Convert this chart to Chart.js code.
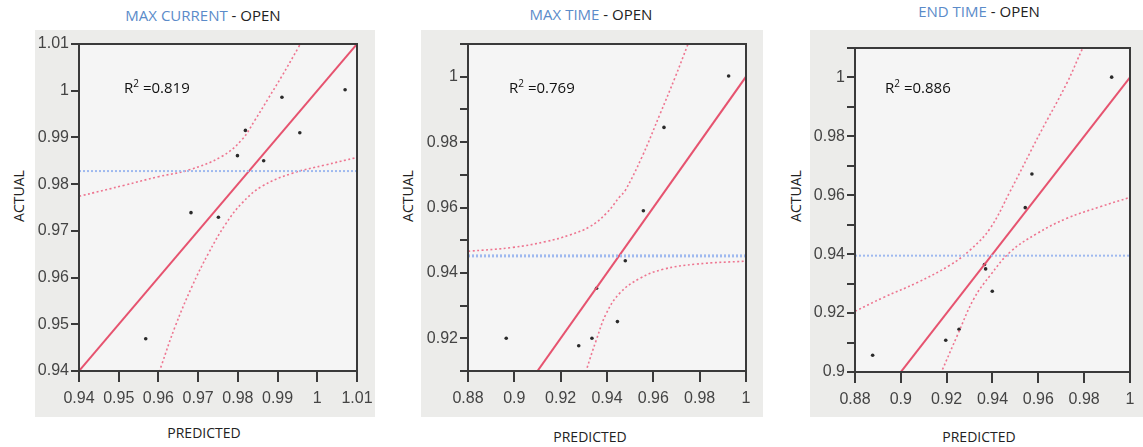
<!DOCTYPE html>
<html>
<head>
<meta charset="utf-8">
<script src="https://cdn.jsdelivr.net/npm/chart.js@4/dist/chart.umd.min.js"></script>
<style>
  body { margin: 0; background: #fff; width: 1143px; height: 447px; position: relative; overflow: hidden; font-family: "Open Sans", sans-serif; }
  .box { position: absolute; top: 30px; height: 387px; background: #ececea; }
  .box canvas { position: absolute; left: 0; top: 0; }
  .title { position: absolute; font-size: 15px; color: #222; white-space: nowrap; transform: translateX(-50%); }
  .title span { color: #5b8bc9; }
  .xlab { position: absolute; font-size: 14px; color: #222; transform: translateX(-50%); }
  .ylab { position: absolute; font-size: 14px; color: #222; transform: translate(-50%, -50%) rotate(-90deg); }
  .r2 { position: absolute; font-size: 15px; color: #111; white-space: nowrap; }
  .r2 sup { font-size: 10px; }
</style>
</head>
<body>

<div class="title" style="left:203px; top:5px;"><span>MAX CURRENT</span> - OPEN</div>
<div class="title" style="left:591px; top:4px;"><span>MAX TIME</span> - OPEN</div>
<div class="title" style="left:979px; top:1px;"><span>END TIME</span> - OPEN</div>

<div class="box" style="left:35px; width:340px;"><canvas id="c1" width="340" height="387"></canvas></div>
<div class="box" style="left:421px; width:342px;"><canvas id="c2" width="342" height="387"></canvas></div>
<div class="box" style="left:810px; width:333px;"><canvas id="c3" width="333" height="387"></canvas></div>

<div class="r2" style="left:124px; top:76px;">R<sup>2</sup> =0.819</div>
<div class="r2" style="left:509px; top:76px;">R<sup>2</sup> =0.769</div>
<div class="r2" style="left:885px; top:76px;">R<sup>2</sup> =0.886</div>

<div class="ylab" style="left:18px; top:196px;">ACTUAL</div>
<div class="ylab" style="left:407px; top:196px;">ACTUAL</div>
<div class="ylab" style="left:795px; top:196px;">ACTUAL</div>

<div class="xlab" style="left:204px; top:423px;">PREDICTED</div>
<div class="xlab" style="left:590px; top:427px;">PREDICTED</div>
<div class="xlab" style="left:979px; top:427px;">PREDICTED</div>

<script>
// MAX CURRENT - OPEN
const mcPredicted = [0.9568, 0.9682, 0.9751, 0.9799, 0.9819, 0.9865, 0.9911, 0.9956, 1.007]
const mcActual    = [0.9469, 0.9739, 0.9729, 0.9861, 0.9915, 0.985, 0.9986, 0.991, 1.0002]
const mcFitX = [0.94, 1.01]
const mcFitY = [0.94, 1.01]
const mcUpperX = [0.94, 0.9516, 0.96, 0.9675, 0.9759, 0.981, 0.9843, 0.9877, 0.991, 0.9952, 0.997]
const mcUpperY = [0.9774, 0.9798, 0.9816, 0.983, 0.9859, 0.9895, 0.9937, 0.9984, 1.003, 1.0092, 1.012]
const mcLowerX = [0.9595, 0.9608, 0.9642, 0.9684, 0.9726, 0.9768, 0.981, 0.986, 0.9936, 1.002, 1.01]
const mcLowerY = [0.938, 0.9413, 0.9495, 0.958, 0.9652, 0.9713, 0.9759, 0.9795, 0.9823, 0.9841, 0.9857]
const mcMean = 0.9828

// MAX TIME - OPEN
const mtPredicted = [0.8965, 0.9278, 0.9335, 0.9355, 0.9445, 0.9479, 0.9557, 0.9646, 0.9925]
const mtActual    = [0.92, 0.9177, 0.92, 0.9353, 0.9251, 0.9437, 0.959, 0.9845, 1.0002]
const mtFitX = [0.905, 1.0]
const mtFitY = [0.905, 1.0]
const mtUpperX = [0.88, 0.8994, 0.9138, 0.9239, 0.9325, 0.9397, 0.9455, 0.9478, 0.955, 0.9629, 0.9694, 0.9747, 0.976]
const mtUpperY = [0.9466, 0.9478, 0.9496, 0.9516, 0.9541, 0.9582, 0.9633, 0.9651, 0.9753, 0.9886, 0.9998, 1.0095, 1.012]
const mtLowerX = [0.9298, 0.9311, 0.9354, 0.9397, 0.9455, 0.9541, 0.9642, 0.9786, 1.0]
const mtLowerY = [0.907, 0.9103, 0.9195, 0.9276, 0.9338, 0.9383, 0.9411, 0.9427, 0.9436]
const mtMean = 0.9452

// END TIME - OPEN
const etPredicted = [0.8877, 0.9196, 0.9254, 0.9365, 0.937, 0.9399, 0.9543, 0.9572, 0.992]
const etActual    = [0.9057, 0.9108, 0.9145, 0.9365, 0.935, 0.9274, 0.9558, 0.9672, 1.0001]
const etFitX = [0.895, 1.0]
const etFitY = [0.895, 1.0]
const etUpperX = [0.88, 0.8924, 0.907, 0.9215, 0.9302, 0.9389, 0.9476, 0.9607, 0.9724, 0.9794, 0.981]
const etUpperY = [0.9206, 0.9253, 0.9303, 0.9363, 0.9414, 0.9487, 0.9612, 0.981, 0.998, 1.01, 1.012]
const etLowerX = [0.9165, 0.9177, 0.9247, 0.9319, 0.9391, 0.9478, 0.9594, 0.9725, 0.987, 1.0]
const etLowerY = [0.898, 0.9, 0.9125, 0.9249, 0.9329, 0.9408, 0.947, 0.9522, 0.9561, 0.9593]
const etMean = 0.9395

const tickFont = { family: '"Liberation Sans", Arial, sans-serif', size: 16 }

function pairs(xs, ys){
    return xs.map(function(x, i){ return { x: x, y: ys[i] } })
}

function tickText(v){
    return Number(v.toFixed(3)).toString()
}

// plot background and frame
const framePlugin = {
    id: 'frame',
    beforeDatasetsDraw: function(chart){
        const a = chart.chartArea
        const ctx = chart.ctx
        ctx.save()
        ctx.fillStyle = '#f5f5f5'
        ctx.fillRect(a.left, a.top, a.right - a.left, a.bottom - a.top)
        ctx.restore()
    },
    afterDraw: function(chart){
        const a = chart.chartArea
        const ctx = chart.ctx
        ctx.save()
        ctx.strokeStyle = '#3a3a3a'
        ctx.lineWidth = 2
        ctx.strokeRect(a.left, a.top, a.right - a.left, a.bottom - a.top)
        ctx.restore()
    }
}

function MakeChart(id, o){
    const ctx = document.getElementById(id)
    return new Chart(ctx, {
        type: 'scatter',
        data: {
            datasets: [
                {
                    data: pairs([o.xmin, o.xmax], [o.mean, o.mean]),
                    showLine: true, pointRadius: 0,
                    borderColor: '#9fb9ef', borderWidth: o.meanWidth, borderDash: [2, 2]
                },
                {
                    data: o.upper, showLine: true, pointRadius: 0, tension: 0.4,
                    borderColor: '#ee7590', borderWidth: 1.6, borderDash: [2, 2.5]
                },
                {
                    data: o.lower, showLine: true, pointRadius: 0, tension: 0.4,
                    borderColor: '#ee7590', borderWidth: 1.6, borderDash: [2, 2.5]
                },
                {
                    data: o.fit, showLine: true, pointRadius: 0,
                    borderColor: '#e6536f', borderWidth: 2
                },
                {
                    data: o.points, pointRadius: 1.8, pointBorderWidth: 0,
                    pointBackgroundColor: '#2a2a2a', borderColor: '#2a2a2a'
                }
            ]
        },
        options: {
            responsive: false,
            animation: false,
            events: [],
            layout: { padding: { top: o.padTop, right: o.padRight, left: 0, bottom: 0 } },
            plugins: { legend: { display: false }, tooltip: { enabled: false } },
            scales: {
                x: {
                    type: 'linear', min: o.xmin, max: o.xmax,
                    ticks: {
                        stepSize: o.xstep, color: '#444', font: tickFont, padding: 7, maxRotation: 0, autoSkip: false,
                        callback: function(v){ return tickText(v) }
                    },
                    grid: { drawOnChartArea: false, drawTicks: true, tickLength: 11, color: '#3a3a3a', lineWidth: 2 },
                    border: { display: false },
                    afterFit: function(scale){ scale.height = o.xHeight; scale.paddingLeft = 0; scale.paddingRight = 0 }
                },
                y: {
                    type: 'linear', min: o.ymin, max: o.ymax,
                    ticks: {
                        stepSize: 0.01, color: '#444', font: tickFont, padding: 2, autoSkip: false,
                        callback: function(v){
                            if(o.everyOther && Math.round(v * 100) % 2 != 0) return ''
                            return tickText(v)
                        }
                    },
                    grid: { drawOnChartArea: false, drawTicks: true, tickLength: 8, color: '#3a3a3a', lineWidth: 2 },
                    border: { display: false },
                    afterFit: function(scale){ scale.width = o.yWidth; scale.paddingTop = 0; scale.paddingBottom = 0 }
                }
            }
        },
        plugins: [framePlugin]
    })
}

MakeChart('c1', {
    xmin: 0.94, xmax: 1.01, xstep: 0.01, ymin: 0.94, ymax: 1.01, everyOther: false,
    mean: mcMean, meanWidth: 2,
    upper: pairs(mcUpperX, mcUpperY), lower: pairs(mcLowerX, mcLowerY),
    fit: pairs(mcFitX, mcFitY), points: pairs(mcPredicted, mcActual),
    padTop: 14, padRight: 18, xHeight: 46, yWidth: 44
})

MakeChart('c2', {
    xmin: 0.88, xmax: 1.0, xstep: 0.02, ymin: 0.91, ymax: 1.01, everyOther: true,
    mean: mtMean, meanWidth: 3,
    upper: pairs(mtUpperX, mtUpperY), lower: pairs(mtLowerX, mtLowerY),
    fit: pairs(mtFitX, mtFitY), points: pairs(mtPredicted, mtActual),
    padTop: 14, padRight: 17, xHeight: 46, yWidth: 47
})

MakeChart('c3', {
    xmin: 0.88, xmax: 1.0, xstep: 0.02, ymin: 0.9, ymax: 1.01, everyOther: true,
    mean: etMean, meanWidth: 2,
    upper: pairs(etUpperX, etUpperY), lower: pairs(etLowerX, etLowerY),
    fit: pairs(etFitX, etFitY), points: pairs(etPredicted, etActual),
    padTop: 18, padRight: 13, xHeight: 45, yWidth: 45
})
</script>
</body>
</html>
